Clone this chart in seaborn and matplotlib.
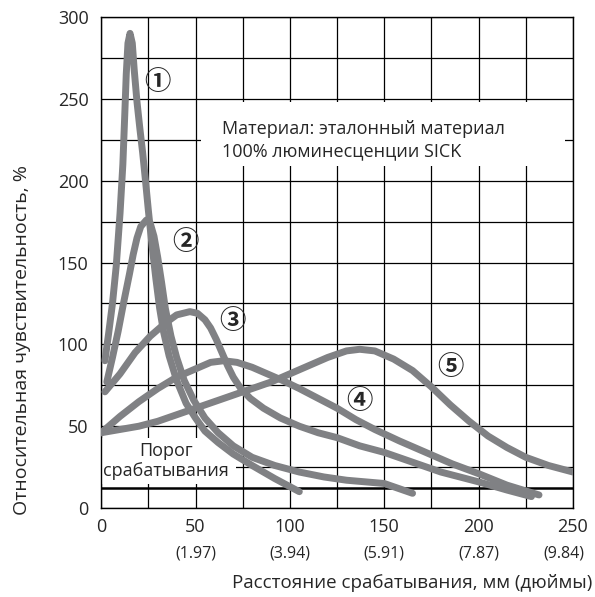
import pandas as pd
import matplotlib
matplotlib.use("Agg")
import matplotlib.pyplot as plt
from matplotlib.patches import Rectangle
from matplotlib.ticker import MultipleLocator
import seaborn as sns

# кривые чувствительности (мм, %)
c1_x = [2, 4, 6, 8, 10, 11.5, 12.5, 13.3, 14.2, 15.3, 16.5, 17.5, 19, 20.5, 22, 23.5,
        25, 27, 29, 31, 33, 36, 40, 45, 50, 55, 62, 70, 80, 92, 105]
c1_y = [90, 107, 125, 148, 180, 210, 240, 265, 284, 290, 284, 268, 248, 232, 217, 200,
        182, 160, 140, 122, 108, 93, 78, 64, 55, 47, 40, 33, 26, 18, 10]

c2_x = [3, 6, 9, 12, 15, 17, 19, 21, 24, 26, 28, 30, 32, 34, 37, 40, 44, 49, 55, 62,
        70, 80, 92, 105, 118, 130, 150, 165]
c2_y = [77, 92, 108, 126, 143, 155, 165, 172, 176, 174, 166, 153, 138, 122, 105, 92,
        78, 66, 55, 46, 38, 31, 26, 22, 19, 17, 15, 9]

c3_x = [2, 10, 18, 26, 34, 40, 47, 51, 55, 58, 61, 64, 67, 70, 74, 79, 86, 95, 105, 115,
        125, 137, 150, 165, 180, 200, 215, 228]
c3_y = [71, 82, 95, 105, 113, 118, 120, 119, 115, 110, 103, 95, 87, 80, 73, 67, 61, 55,
        50, 46, 43, 38, 34, 28, 22, 16, 11, 7]

c4_x = [0, 10, 20, 30, 40, 50, 58, 65, 72, 80, 88, 96, 105, 115, 125, 135, 145, 158,
        172, 186, 200, 215, 232]
c4_y = [46, 56, 65, 73, 80, 85, 89, 90, 89, 86, 82, 78, 73, 67, 61, 54, 48, 41, 34, 27,
        21, 14, 8]

c5_x = [0, 10, 20, 30, 40, 50, 60, 70, 80, 90, 100, 110, 120, 130, 137, 145, 155, 165,
        175, 185, 195, 205, 215, 225, 237, 250]
c5_y = [46, 48, 50, 53, 57, 61, 65, 69, 73, 77, 82, 87, 92, 96, 97, 96, 91, 84, 74, 63,
        53, 44, 37, 31, 26, 22]

curve_labels = ["①", "②", "③", "④", "⑤"]
label_x = [30, 44.5, 69.5, 137, 185]
label_y = [260, 162, 114, 65, 86]

threshold = 12
x_ticks = [0, 50, 100, 150, 200, 250]
inch_labels = ["", "(1.97)", "(3.94)", "(5.91)", "(7.87)", "(9.84)"]
y_ticks = [0, 50, 100, 150, 200, 250, 300]

frames = []
for name, xs, ys in zip(curve_labels, [c1_x, c2_x, c3_x, c4_x, c5_x],
                        [c1_y, c2_y, c3_y, c4_y, c5_y]):
    frames.append(pd.DataFrame({"x": xs, "y": ys, "curve": name}))
df = pd.concat(frames, ignore_index=True)

sns.set_style("white")
plt.rcParams["font.family"] = ["Open Sans", "DejaVu Sans"]

GRAY = "#808184"

fig = plt.figure(figsize=(5.95, 5.97), dpi=100)
ax = fig.add_axes([0.170, 0.149, 0.793, 0.8225])

sns.lineplot(data=df, x="x", y="y", hue="curve", palette=[GRAY] * 5, legend=False,
             sort=False, estimator=None, linewidth=5, ax=ax, zorder=3,
             solid_capstyle="round", solid_joinstyle="round")

ax.set_xlim(0, 250)
ax.set_ylim(0, 300)
ax.xaxis.set_minor_locator(MultipleLocator(25))
ax.yaxis.set_minor_locator(MultipleLocator(25))
ax.set_xticks(x_ticks)
ax.set_yticks(y_ticks)
ax.set_axisbelow(True)
ax.grid(True, which="both", color="black", linewidth=0.9)
ax.tick_params(axis="both", which="both", length=0, labelsize=13)
ax.tick_params(axis="x", pad=7)
ax.tick_params(axis="y", pad=9)
for s in ax.spines.values():
    s.set_color("black")
    s.set_linewidth(1.0)
ax.set_xlabel("")
ax.set_ylabel("")

# порог срабатывания
ax.axhline(threshold, color="black", linewidth=1.8, zorder=2)
ax.add_patch(Rectangle((0.5, 14.5), 71, 28.5, facecolor="white", edgecolor="none", zorder=1.5))
ax.text(34.5, 29, "Порог\nсрабатывания", ha="center", va="center", fontsize=13,
        linespacing=1.15, zorder=4)

# подпись материала
ax.add_patch(Rectangle((53, 209), 193, 39, facecolor="white", edgecolor="none", zorder=1.5))
ax.text(64, 225, "Материал: эталонный материал\n100% люминесценции SICK", ha="left",
        va="center", fontsize=13, linespacing=1.3, zorder=4)

for lab, lx, ly in zip(curve_labels, label_x, label_y):
    ax.text(lx, ly, lab, ha="center", va="center", fontsize=19, zorder=4,
            fontweight="bold", family=["Noto Sans CJK JP", "DejaVu Sans"])

# дюймы под основными подписями
for xt, lab in zip(x_ticks, inch_labels):
    if not lab:
        continue
    xpos = min(xt, 245)
    ax.text(xpos, -0.092, lab, transform=ax.get_xaxis_transform(), ha="center",
            va="center", fontsize=11.5)

fig.text(592 / 595, 1 - 583 / 597, "Расстояние срабатывания, мм (дюймы)", ha="right",
         va="center", fontsize=13.5)
fig.text(22 / 595, 1 - 515 / 597, "Относительная чувствительность, %", rotation=90,
         ha="center", va="bottom", fontsize=14)

fig.savefig("out.png", dpi=100)
